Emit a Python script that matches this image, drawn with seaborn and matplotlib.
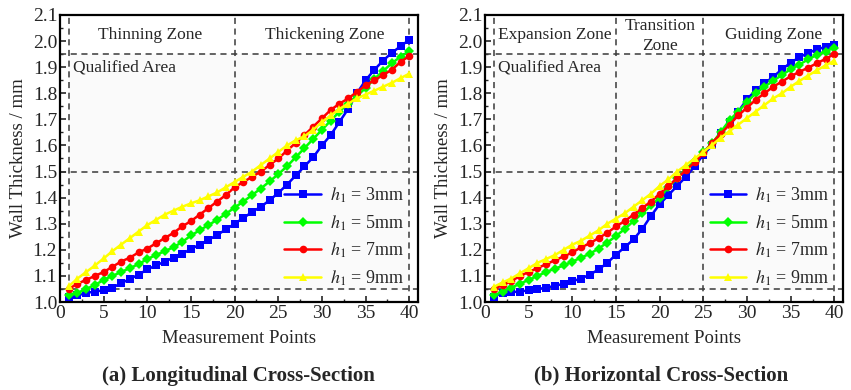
import numpy as np
import pandas as pd
import matplotlib.pyplot as plt
import seaborn as sns
from matplotlib.ticker import MultipleLocator

points = list(range(1, 41))
labels = [r"$h_1$ = 3mm", r"$h_1$ = 5mm", r"$h_1$ = 7mm", r"$h_1$ = 9mm"]

# (a) longitudinal cross-section
long_3 = [1.020, 1.025, 1.035, 1.040, 1.045, 1.055, 1.072, 1.088, 1.105, 1.125,
          1.140, 1.155, 1.170, 1.185, 1.203, 1.220, 1.238, 1.257, 1.278, 1.300,
          1.322, 1.345, 1.365, 1.390, 1.418, 1.450, 1.485, 1.520, 1.555, 1.600,
          1.640, 1.690, 1.740, 1.800, 1.850, 1.890, 1.925, 1.955, 1.980, 2.005]
long_5 = [1.025, 1.035, 1.050, 1.065, 1.085, 1.100, 1.115, 1.130, 1.145, 1.165,
          1.180, 1.195, 1.210, 1.230, 1.255, 1.275, 1.295, 1.315, 1.338, 1.362,
          1.385, 1.410, 1.435, 1.462, 1.490, 1.520, 1.555, 1.590, 1.625, 1.660,
          1.695, 1.730, 1.760, 1.790, 1.820, 1.855, 1.885, 1.915, 1.940, 1.962]
long_7 = [1.050, 1.070, 1.085, 1.100, 1.115, 1.135, 1.155, 1.170, 1.190, 1.205,
          1.225, 1.245, 1.265, 1.290, 1.310, 1.335, 1.360, 1.385, 1.410, 1.440,
          1.460, 1.480, 1.500, 1.525, 1.550, 1.580, 1.610, 1.640, 1.672, 1.704,
          1.736, 1.760, 1.780, 1.805, 1.830, 1.850, 1.870, 1.890, 1.920, 1.943]
long_9 = [1.060, 1.090, 1.115, 1.140, 1.167, 1.195, 1.220, 1.245, 1.270, 1.295,
          1.315, 1.335, 1.350, 1.365, 1.378, 1.390, 1.405, 1.420, 1.440, 1.460,
          1.480, 1.500, 1.525, 1.550, 1.575, 1.600, 1.620, 1.635, 1.660, 1.690,
          1.715, 1.740, 1.760, 1.780, 1.795, 1.810, 1.825, 1.840, 1.858, 1.875]

# (b) horizontal cross-section
hor_3 = [1.020, 1.035, 1.038, 1.040, 1.045, 1.050, 1.055, 1.062, 1.070, 1.080,
         1.090, 1.105, 1.125, 1.150, 1.182, 1.210, 1.240, 1.280, 1.330, 1.375,
         1.410, 1.445, 1.480, 1.520, 1.565, 1.600, 1.646, 1.690, 1.730, 1.777,
         1.812, 1.838, 1.863, 1.892, 1.917, 1.938, 1.955, 1.968, 1.978, 1.985]
hor_5 = [1.025, 1.040, 1.055, 1.070, 1.085, 1.100, 1.115, 1.128, 1.140, 1.155,
         1.170, 1.185, 1.205, 1.228, 1.253, 1.280, 1.310, 1.340, 1.370, 1.400,
         1.440, 1.475, 1.510, 1.540, 1.575, 1.608, 1.652, 1.697, 1.730, 1.767,
         1.800, 1.825, 1.848, 1.870, 1.892, 1.910, 1.930, 1.947, 1.960, 1.975]
hor_7 = [1.050, 1.065, 1.080, 1.100, 1.115, 1.130, 1.145, 1.160, 1.175, 1.190,
         1.210, 1.225, 1.245, 1.265, 1.290, 1.310, 1.335, 1.360, 1.385, 1.415,
         1.445, 1.475, 1.505, 1.535, 1.570, 1.610, 1.645, 1.680, 1.715, 1.745,
         1.775, 1.800, 1.825, 1.845, 1.865, 1.882, 1.898, 1.915, 1.932, 1.950]
hor_9 = [1.058, 1.075, 1.090, 1.110, 1.130, 1.150, 1.165, 1.180, 1.200, 1.220,
         1.235, 1.255, 1.275, 1.300, 1.320, 1.340, 1.365, 1.390, 1.415, 1.445,
         1.470, 1.500, 1.525, 1.550, 1.575, 1.602, 1.630, 1.655, 1.680, 1.705,
         1.730, 1.755, 1.780, 1.800, 1.825, 1.847, 1.868, 1.888, 1.907, 1.925]

palette = {labels[0]: "#0000ff", labels[1]: "#00ff00", labels[2]: "#ff0000", labels[3]: "#ffff00"}
markers = {labels[0]: "s", labels[1]: "D", labels[2]: "o", labels[3]: "^"}


def to_long(series):
    frames = [pd.DataFrame({"point": points, "thick": s, "case": lab})
              for s, lab in zip(series, labels)]
    return pd.concat(frames, ignore_index=True)


sns.set_style("white")
plt.rcParams["font.family"] = ["Liberation Serif", "DejaVu Serif"]
plt.rcParams["mathtext.fontset"] = "stix"

fig = plt.figure(figsize=(8.51, 3.90), dpi=100)
ax_a = fig.add_axes([0.0705, 0.2256, 0.4207, 0.736])
ax_b = fig.add_axes([0.570, 0.2256, 0.4207, 0.736])

panels = [
    (ax_a, [long_3, long_5, long_7, long_9], [1, 20, 40],
     [(10.3, 2.025, "Thinning Zone"), (30.3, 2.025, "Thickening Zone")]),
    (ax_b, [hor_3, hor_5, hor_7, hor_9], [1, 15, 25, 40],
     [(8.0, 2.025, "Expansion Zone"), (20.0, 2.058, "Transition"),
      (20.0, 1.983, "Zone"), (33.0, 2.025, "Guiding Zone")]),
]

dash = dict(color="#3a3a3a", lw=1.1, ls=(0, (4, 3)), zorder=1)

for ax, series, vlines, zones in panels:
    ax.fill_between([1, 40], 1.05, 1.95, color="#fafafa", zorder=0)
    for v in vlines:
        ax.axvline(v, **dash)
    for h in (1.05, 1.5, 1.95):
        ax.axhline(h, **dash)

    sns.lineplot(data=to_long(series), x="point", y="thick", hue="case", style="case",
                 palette=palette, markers=markers, dashes=False, lw=1.8,
                 markersize=5.5, markeredgewidth=0, ax=ax, zorder=3)

    for x, y, t in zones:
        ax.text(x, y, t, ha="center", va="center", fontsize=12.5)
    ax.text(1.5, 1.90, "Qualified Area", ha="left", va="center", fontsize=12.5)

    ax.set_xlim(0, 41)
    ax.set_ylim(1.0, 2.1)
    ax.xaxis.set_major_locator(MultipleLocator(5))
    ax.xaxis.set_minor_locator(MultipleLocator(2.5))
    ax.yaxis.set_major_locator(MultipleLocator(0.1))
    ax.yaxis.set_minor_locator(MultipleLocator(0.05))
    ax.yaxis.set_major_formatter(lambda v, p: f"{v:.1f}")
    ax.tick_params(which="both", direction="in", left=True, bottom=True, labelsize=14,
                   pad=2)
    ax.tick_params(which="major", length=4, width=1.2)
    ax.tick_params(which="minor", length=2, width=1.0)
    for s in ax.spines.values():
        s.set_linewidth(1.6)
        s.set_color("black")
    ax.set_xlabel("Measurement Points", fontsize=13.5, labelpad=6)
    ax.set_ylabel("Wall Thickness / mm", fontsize=13.5, labelpad=4)
    ax.legend(loc="lower right", bbox_to_anchor=(1.0, 0.0), frameon=False,
              fontsize=13, handlelength=2.0, handletextpad=0.5, labelspacing=0.45,
              borderaxespad=0.4)

fig.text(0.28, 0.036, "(a) Longitudinal Cross-Section", ha="center", va="center",
         fontsize=15, fontweight="bold")
fig.text(0.777, 0.036, "(b) Horizontal Cross-Section", ha="center", va="center",
         fontsize=15, fontweight="bold")

fig.savefig("out.png", dpi=100)
